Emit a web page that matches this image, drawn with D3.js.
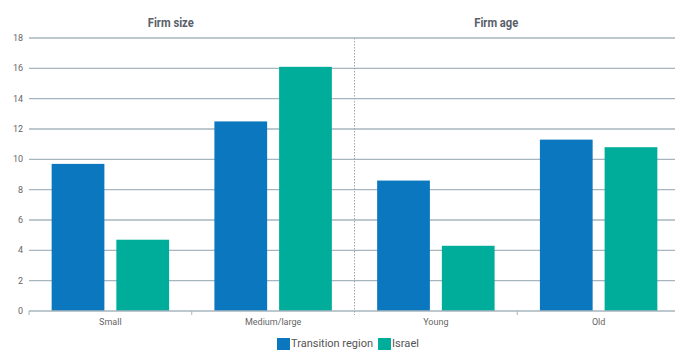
<!DOCTYPE html>
<html><head><meta charset="utf-8">
<script src="https://cdn.jsdelivr.net/npm/d3@7"></script>
<style>body{margin:0;background:#fff}svg{display:block}</style>
</head><body>
<script>
const categories = ["Small", "Medium/large", "Young", "Old"];
const panels = ["Firm size", "Firm age"];
const seriesNames = ["Transition region", "Israel"];
const transition = [9.7, 12.5, 8.6, 11.3];
const israel = [4.7, 16.1, 4.3, 10.8];
const yTicks = [0, 2, 4, 6, 8, 10, 12, 14, 16, 18];
const colors = ["#0b77bf", "#00ad9b"];

const W = 675, H = 350;
const font = "'Roboto','Liberation Sans',sans-serif";
const svg = d3.select("body").append("svg").attr("width", W).attr("height", H);

const x = d3.scaleBand().domain(categories).range([29, 680]);
const y = d3.scaleLinear().domain([0, 18]).range([311, 38]);
const xs = d3.scaleBand().domain(seriesNames).range([0, x.bandwidth()]).paddingInner(0.185).paddingOuter(0.35);

// gridlines
svg.append("g").selectAll("line").data(yTicks.slice(1)).join("line")
  .attr("x1", 29).attr("x2", W).attr("y1", d => y(d)).attr("y2", d => y(d))
  .attr("stroke", "#a7b5be").attr("stroke-width", 1.3);

// y labels
svg.append("g").selectAll("text").data(yTicks).join("text")
  .attr("x", 23).attr("y", d => y(d) + 3).attr("text-anchor", "end")
  .attr("font-family", font).attr("font-size", 9).attr("fill", "#666")
  .text(d => d);

// bars
const vals = [transition, israel];
seriesNames.forEach((s, si) => {
  svg.append("g").selectAll("rect").data(categories).join("rect")
    .attr("x", c => x(c) + xs(s)).attr("width", xs.bandwidth())
    .attr("y", (c, i) => y(vals[si][i])).attr("height", (c, i) => y(0) - y(vals[si][i]))
    .attr("fill", colors[si]);
});

// baseline + ticks
svg.append("line").attr("x1", 29).attr("x2", W).attr("y1", y(0)).attr("y2", y(0))
  .attr("stroke", "#a7b5be").attr("stroke-width", 1.3);
svg.append("g").selectAll("line").data([0, 1, 3]).join("line")
  .attr("x1", i => x(categories[i])).attr("x2", i => x(categories[i]))
  .attr("y1", y(0)).attr("y2", y(0) + 4).attr("stroke", "#a7b5be").attr("stroke-width", 1);

// panel divider
svg.append("line").attr("x1", x("Young")).attr("x2", x("Young")).attr("y1", y(18)).attr("y2", y(0) + 4)
  .attr("stroke", "#9aaab5").attr("stroke-width", 1).attr("stroke-dasharray", "1.5,1.5");

// category labels
svg.append("g").selectAll("text").data(categories).join("text")
  .attr("x", c => x(c) + x.bandwidth() / 2).attr("y", 325).attr("text-anchor", "middle")
  .attr("font-family", font).attr("font-size", 9).attr("fill", "#666").text(c => c);

// panel titles
const titleW = [46, 44];
svg.append("g").selectAll("text").data(panels).join("text")
  .attr("x", (p, i) => x(categories[i * 2]) + x.bandwidth() - 21)
  .attr("y", 27).attr("text-anchor", "middle")
  .attr("font-family", font).attr("font-size", 12).attr("font-weight", "bold").attr("fill", "#58606a")
  .attr("textLength", (p, i) => titleW[i]).attr("lengthAdjust", "spacingAndGlyphs")
  .text(p => p);

// legend
const lg = svg.append("g");
const legX = [277, 378];
const legW = [82, 27];
seriesNames.forEach((s, i) => {
  lg.append("rect").attr("x", legX[i]).attr("y", 338).attr("width", 13).attr("height", 12).attr("fill", colors[i]);
  lg.append("text").attr("x", legX[i] + 14).attr("y", 346.5).attr("font-family", font)
    .attr("font-size", 11.5).attr("fill", "#555")
    .attr("textLength", legW[i]).attr("lengthAdjust", "spacingAndGlyphs").text(s);
});
</script>
</body></html>
